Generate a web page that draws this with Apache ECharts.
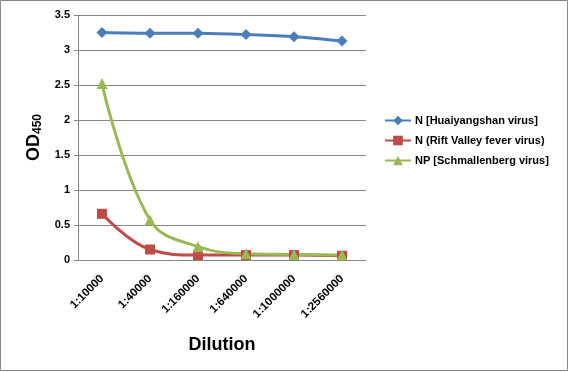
<!DOCTYPE html>
<html><head><meta charset="utf-8">
<script src="https://cdn.jsdelivr.net/npm/echarts@6/dist/echarts.min.js"></script>
<style>html,body{margin:0;padding:0;background:#fff}#c{width:569px;height:372px}</style>
</head><body><div id="c"></div>
<script>
const categories = ['1:10000','1:40000','1:160000','1:640000','1:1000000','1:2560000'];
const seriesNames = ['N [Huaiyangshan virus]','N (Rift Valley fever virus)','NP [Schmallenberg virus]'];
const huaiyangshan = [3.25, 3.24, 3.24, 3.22, 3.19, 3.13];
const riftValley = [0.66, 0.15, 0.07, 0.07, 0.07, 0.06];
const schmallenberg = [2.52, 0.57, 0.19, 0.09, 0.08, 0.07];
const yTicks = [0, 0.5, 1, 1.5, 2, 2.5, 3, 3.5];

const font = '"Liberation Sans", Arial, sans-serif';
const chart = echarts.init(document.getElementById('c'), null, {renderer:'canvas'});
chart.setOption({
  animation: false,
  backgroundColor: '#fff',
  graphic: [{type:'rect', shape:{x:0.5,y:0.5,width:567,height:370}, style:{fill:'none', stroke:'#868686', lineWidth:1}}],
  grid: {left:78, right:203, top:15, bottom:112},
  legend: {
    orient:'vertical', left:379, top:110, itemGap:9, itemWidth:26, itemHeight:12,
    textStyle:{fontFamily:font, fontSize:11, fontWeight:'bold', color:'#000', padding:[0,0,0,-1]},
    data: seriesNames
  },
  xAxis: {
    type:'category', data:categories, boundaryGap:true,
    name:'Dilution', nameLocation:'middle', nameGap:76,
    nameTextStyle:{fontFamily:font, fontSize:18, fontWeight:'bold', color:'#000'},
    axisLine:{lineStyle:{color:'#868686', width:1}},
    axisTick:{show:false},
    axisLabel:{rotate:45, fontFamily:font, fontSize:11.5, fontWeight:'bold', color:'#000', margin:17, interval:0}
  },
  yAxis: {
    type:'value', min:yTicks[0], max:yTicks[yTicks.length-1], interval:0.5,
    name:'{m|OD}{s|450}', nameLocation:'middle', nameGap:34, nameRotate:90,
    nameTextStyle:{rich:{
      m:{fontFamily:font, fontSize:18, fontWeight:'bold', color:'#000'},
      s:{fontFamily:font, fontSize:12, fontWeight:'bold', color:'#000', verticalAlign:'bottom', padding:[8,0,0,0]}
    }},
    axisLine:{show:true, lineStyle:{color:'#868686', width:1}},
    axisTick:{show:true, length:4, lineStyle:{color:'#868686'}},
    splitLine:{lineStyle:{color:'#868686', width:1}},
    axisLabel:{fontFamily:font, fontSize:11, fontWeight:'bold', color:'#000', margin:8}
  },
  series: [
    {name:seriesNames[0], type:'line', data:huaiyangshan, smooth:0.3, symbol:'diamond', symbolSize:11,
     itemStyle:{color:'#4a7ebb'}, lineStyle:{color:'#4a7ebb', width:3}},
    {name:seriesNames[1], type:'line', data:riftValley, smooth:0.4, symbol:'rect', symbolSize:10,
     itemStyle:{color:'#be4b48'}, lineStyle:{color:'#be4b48', width:3}},
    {name:seriesNames[2], type:'line', data:schmallenberg, smooth:0.4, symbol:'triangle', symbolSize:11,
     itemStyle:{color:'#98b954'}, lineStyle:{color:'#98b954', width:3}}
  ]
});
</script></body></html>
